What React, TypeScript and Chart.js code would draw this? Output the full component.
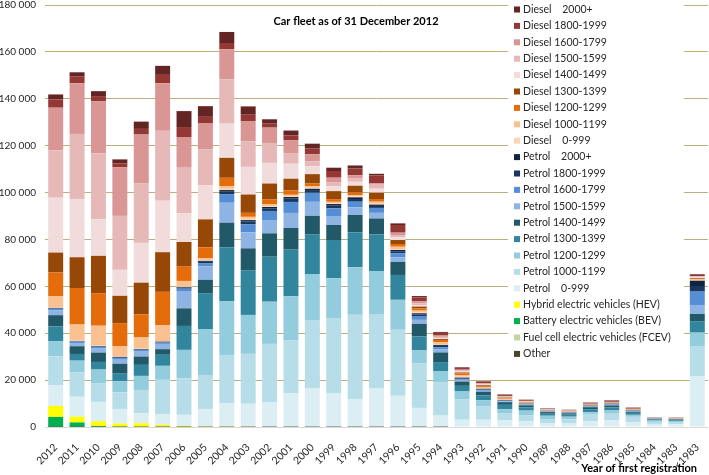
import React, { useEffect, useRef } from "react";
import { Chart, registerables } from "chart.js";

Chart.register(...registerables);

const categories = [
  "2012", "2011", "2010", "2009", "2008", "2007", "2006", "2005", "2004", "2003",
  "2002", "2001", "2000", "1999", "1998", "1997", "1996", "1995", "1994", "1993",
  "1992", "1991", "1990", "1989", "1988", "1987", "1986", "1985", "1984", "1983", "<1983",
];

const yTicks = [0, 20000, 40000, 60000, 80000, 100000, 120000, 140000, 160000, 180000];

const other = [50, 50, 50, 50, 50, 50, 50, 50, 50, 50, 50, 50, 50, 50, 50, 50, 50, 50, 50, 0, 0, 0, 0, 0, 0, 0, 0, 0, 0, 0, 0];
const fcev = [0, 0, 0, 0, 0, 0, 0, 0, 0, 0, 0, 0, 0, 0, 0, 0, 0, 0, 0, 0, 0, 0, 0, 0, 0, 0, 0, 0, 0, 0, 0];
const bev = [4250, 1900, 300, 100, 50, 50, 50, 0, 0, 0, 0, 0, 0, 0, 0, 0, 0, 0, 0, 0, 0, 0, 0, 0, 0, 0, 0, 0, 0, 0, 0];
const hev = [4700, 2450, 2100, 1300, 1500, 850, 400, 150, 100, 50, 0, 0, 0, 0, 0, 0, 0, 0, 0, 0, 0, 0, 0, 0, 0, 0, 0, 0, 0, 0, 0];

const petrol0 = [8800, 8500, 8250, 6250, 4250, 4550, 4700, 7500, 10100, 9800, 10500, 14300, 16500, 14200, 11900, 16600, 13300, 8100, 4800, 3100, 3100, 2900, 2400, 1700, 1700, 2400, 2850, 2100, 1300, 1200, 21550];
const petrol1000 = [12350, 10400, 7800, 7100, 9950, 14600, 15600, 14200, 20200, 21300, 24900, 22700, 29100, 32200, 35900, 31500, 28100, 19100, 14300, 8800, 5600, 3000, 2700, 1700, 1550, 2900, 2800, 2250, 900, 900, 13000];
const petrol1200 = [6500, 5000, 6000, 4700, 6000, 6000, 12100, 19900, 23100, 16600, 18000, 18700, 19600, 17000, 20300, 18400, 12800, 5400, 4550, 3250, 2700, 1700, 1900, 1400, 1150, 1000, 1400, 850, 550, 500, 5700];
const petrol1300 = [6250, 2850, 3250, 3250, 4700, 4700, 10200, 15300, 23100, 18900, 19200, 19900, 17000, 16300, 14900, 15600, 10600, 5950, 4000, 2400, 2100, 1850, 1400, 850, 850, 1300, 1300, 850, 400, 350, 4700];
const petrol1400 = [4800, 3300, 4000, 4250, 3550, 2400, 7500, 5700, 10500, 9500, 9950, 9250, 7800, 6400, 7400, 6800, 5550, 5400, 4100, 1850, 1550, 1150, 850, 700, 600, 850, 850, 450, 250, 250, 3250];
const petrol1500 = [2000, 1400, 1700, 1700, 2100, 2250, 7400, 5700, 8500, 6800, 5700, 6400, 6000, 3850, 3250, 2400, 2000, 1700, 1400, 700, 400, 300, 250, 150, 150, 200, 250, 150, 50, 50, 3850];
const petrol1600 = [700, 550, 700, 700, 700, 550, 1000, 1400, 3700, 3400, 3850, 4700, 3850, 3250, 2400, 2100, 1700, 1400, 850, 400, 400, 300, 250, 200, 150, 250, 300, 250, 100, 100, 5700];
const petrol1800 = [200, 150, 200, 300, 200, 250, 500, 550, 1000, 1300, 1150, 1400, 1150, 1150, 1150, 850, 850, 850, 550, 300, 250, 200, 150, 100, 100, 150, 150, 100, 50, 50, 2400];
const petrol2000 = [200, 150, 150, 200, 150, 150, 200, 400, 700, 550, 550, 700, 550, 700, 700, 550, 550, 550, 400, 250, 200, 150, 100, 100, 100, 100, 100, 100, 50, 50, 2250];

const diesel0 = [200, 200, 200, 200, 200, 250, 200, 400, 550, 550, 400, 400, 400, 400, 400, 400, 400, 300, 400, 400, 300, 200, 150, 100, 100, 100, 100, 100, 50, 50, 300];
const diesel1000 = [4700, 6800, 8500, 4250, 5000, 6700, 2400, 700, 1150, 850, 700, 550, 700, 550, 550, 850, 1000, 850, 850, 700, 500, 300, 200, 100, 100, 150, 100, 100, 50, 50, 300];
const diesel1200 = [10200, 15600, 13900, 9950, 9650, 14300, 6100, 4700, 3550, 1700, 2100, 1850, 1150, 1150, 1150, 1150, 1150, 1000, 850, 700, 400, 300, 200, 100, 100, 150, 150, 100, 50, 50, 250];
const diesel1300 = [8500, 13100, 15900, 11650, 13500, 16900, 10500, 11900, 8500, 7800, 6800, 5000, 4000, 3400, 2850, 2700, 1700, 700, 400, 400, 300, 200, 150, 100, 100, 100, 100, 100, 50, 50, 300];
const diesel1400 = [23400, 24900, 15600, 11100, 17000, 22000, 12200, 14600, 14600, 11800, 8800, 6400, 3400, 2100, 1700, 1700, 1150, 550, 400, 400, 300, 200, 150, 100, 100, 100, 100, 100, 50, 50, 300];
const diesel1500 = [20200, 27700, 28100, 23000, 25300, 29800, 19500, 15200, 18900, 10900, 8500, 4550, 2100, 1550, 1400, 1700, 1000, 850, 550, 400, 300, 250, 150, 100, 100, 100, 100, 100, 50, 50, 300];
const diesel1600 = [18200, 21600, 22300, 20700, 20900, 20300, 13100, 11100, 12800, 8650, 6550, 5400, 3000, 2100, 1400, 700, 1000, 850, 550, 400, 300, 250, 150, 100, 100, 100, 100, 100, 50, 50, 250];
const diesel1800 = [3550, 2850, 1850, 1700, 2400, 3550, 4250, 2850, 2700, 2700, 1700, 2100, 2400, 2850, 2850, 3250, 3250, 1700, 1150, 700, 550, 450, 350, 250, 200, 350, 450, 350, 150, 150, 450];
const diesel2000 = [2100, 1850, 2400, 1700, 3100, 3850, 6800, 4550, 4700, 3550, 1850, 2100, 2100, 1400, 1300, 700, 700, 550, 400, 300, 250, 200, 150, 100, 100, 150, 200, 150, 50, 50, 300];

// stacking order: bottom -> top
const seriesLabels = [
  "Other",
  "Fuel cell electric vehicles (FCEV)",
  "Battery electric vehicles (BEV)",
  "Hybrid electric vehicles (HEV)",
  "Petrol    0-999",
  "Petrol 1000-1199",
  "Petrol 1200-1299",
  "Petrol 1300-1399",
  "Petrol 1400-1499",
  "Petrol 1500-1599",
  "Petrol 1600-1799",
  "Petrol 1800-1999",
  "Petrol    2000+",
  "Diesel    0-999",
  "Diesel 1000-1199",
  "Diesel 1200-1299",
  "Diesel 1300-1399",
  "Diesel 1400-1499",
  "Diesel 1500-1599",
  "Diesel 1600-1799",
  "Diesel 1800-1999",
  "Diesel    2000+",
];
const seriesValues = [
  other, fcev, bev, hev,
  petrol0, petrol1000, petrol1200, petrol1300, petrol1400, petrol1500, petrol1600, petrol1800, petrol2000,
  diesel0, diesel1000, diesel1200, diesel1300, diesel1400, diesel1500, diesel1600, diesel1800, diesel2000,
];
const seriesColors = [
  "#4a4528", "#c3d69b", "#00b050", "#ffff00",
  "#dbeef4", "#b7dee8", "#93cddd", "#31859c", "#215968", "#8eb4e3", "#558ed5", "#17375e", "#0f243e",
  "#fcd5b5", "#fac090", "#e46c0a", "#974706", "#f2dcdb", "#e6b9b8", "#d99694", "#953735", "#632523",
];

const FONT = "Lato, 'Open Sans', sans-serif";

const fmt = (v: number) => String(v).replace(/\B(?=(\d{3})+(?!\d))/g, " ");

const overlayPlugin = {
  id: "overlay",
  beforeDatasetsDraw(chart: any) {
    const ctx = chart.ctx as CanvasRenderingContext2D;
    ctx.save();
    ctx.fillStyle = "#ffffff";
    ctx.fillRect(508, 0, 176, 363);
    const ds = chart.data.datasets.slice().reverse();
    ctx.font = `10.5px ${FONT}`;
    ctx.textBaseline = "middle";
    ctx.textAlign = "left";
    ds.forEach((d: any, i: number) => {
      const y = 9.5 + i * 16.4;
      ctx.fillStyle = d.backgroundColor;
      ctx.fillRect(514, y - 3, 6, 6);
      ctx.fillStyle = "#262626";
      ctx.fillText(d.label, 523, y);
    });
    ctx.fillStyle = "#000000";
    ctx.font = `bold 11px ${FONT}`;
    ctx.textAlign = "center";
    ctx.fillText("Car fleet as of 31 December 2012", 356, 21);
    ctx.font = `bold 11px ${FONT}`;
    ctx.textAlign = "right";
    ctx.fillText("Year of first registration", 697, 468);
    ctx.restore();
  },
};

export default function App() {
  const ref = useRef<HTMLCanvasElement | null>(null);
  useEffect(() => {
    if (!ref.current) return;
    const chart = new Chart(ref.current, {
      type: "bar",
      data: {
        labels: categories,
        datasets: seriesLabels.map((label, i) => ({
          label,
          data: seriesValues[i],
          backgroundColor: seriesColors[i],
          borderWidth: 0,
          categoryPercentage: 1,
          barPercentage: 0.7,
        })),
      },
      options: {
        responsive: false,
        animation: false,
        layout: { padding: { top: 5, right: 1, bottom: 0, left: 0 } },
        plugins: {
          legend: { display: false },
          tooltip: { enabled: false },
          title: { display: false },
        },
        scales: {
          x: {
            stacked: true,
            grid: { display: false },
            border: { display: false },
            ticks: {
              autoSkip: false,
              minRotation: 45,
              maxRotation: 45,
              padding: 6,
              color: "#262626",
              font: { family: FONT, size: 10.5 },
            },
            afterFit: (scale: any) => {
              scale.height = 48;
              scale.paddingLeft = 0;
              scale.paddingRight = 0;
            },
          },
          y: {
            stacked: true,
            min: 0,
            max: 180000,
            afterBuildTicks: (scale: any) => {
              scale.ticks = yTicks.map((v) => ({ value: v }));
            },
            grid: {
              drawTicks: false,
              color: (c: any) => (c.tick && c.tick.value === 0 ? "#d9d9d9" : "#bcae7e"),
              lineWidth: 1,
            },
            border: { display: false },
            ticks: {
              padding: 9,
              color: "#262626",
              font: { family: FONT, size: 10 },
              callback: (v: any) => fmt(Number(v)),
            },
            afterFit: (scale: any) => {
              scale.width = 45;
              scale.paddingTop = 0;
              scale.paddingBottom = 0;
            },
          },
        },
      },
      plugins: [overlayPlugin],
    });
    return () => chart.destroy();
  }, []);
  return (
    <div style={{ position: "fixed", left: 0, top: 0, width: 709, height: 475, background: "#fff" }}>
      <canvas ref={ref} width={709} height={475} style={{ display: "block" }} />
    </div>
  );
}
